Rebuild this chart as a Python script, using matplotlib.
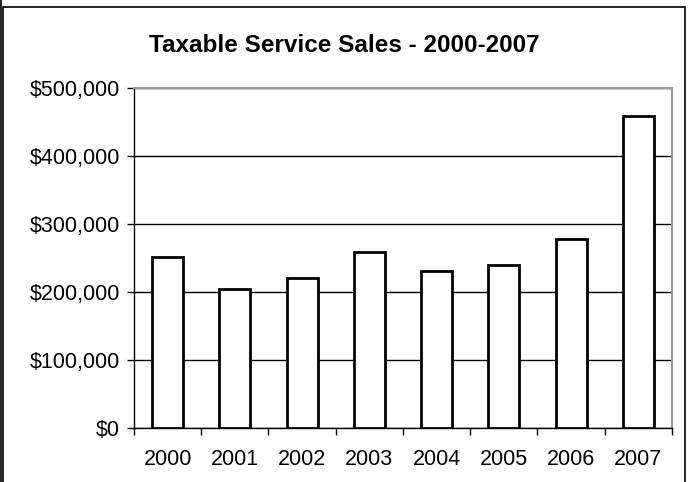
import matplotlib.pyplot as plt
from matplotlib.patches import Rectangle
from matplotlib.lines import Line2D
from matplotlib.ticker import FuncFormatter, MultipleLocator

plt.rcParams['font.family'] = ['Liberation Sans', 'DejaVu Sans']

years = ['2000', '2001', '2002', '2003', '2004', '2005', '2006', '2007']
sales = [250600, 204000, 220600, 258400, 230900, 239700, 278000, 458800]

fig = plt.figure(figsize=(6.96, 4.82), dpi=100)
ax = fig.add_axes([0.1925, 0.1127, 0.773, 0.7047])

x = range(len(years))
ax.bar(x, sales, width=0.46, color='white', edgecolor='black', linewidth=2, zorder=3)

ax.set_xlim(-0.5, len(years) - 0.5)
ax.set_ylim(0, 500000)
ax.yaxis.set_major_locator(MultipleLocator(100000))
ax.yaxis.set_major_formatter(FuncFormatter(lambda v, p: '${:,.0f}'.format(v)))
ax.grid(axis='y', color='black', linewidth=1, zorder=0)

ax.set_xticks([i + 0.5 for i in range(-1, len(years))])
ax.set_xticklabels([])
ax.set_xticks(list(x), minor=True)
ax.set_xticklabels(years, minor=True)
ax.tick_params(axis='x', which='minor', length=0, pad=15, labelsize=15.5)
ax.tick_params(axis='x', which='major', length=5, width=1, direction='out')
ax.tick_params(axis='y', length=5, width=1, direction='out', labelsize=15.5, pad=5)

ax.spines['top'].set_color('#999999')
ax.spines['right'].set_color('#999999')
ax.spines['top'].set_linewidth(1.5)
ax.spines['right'].set_linewidth(1.5)
ax.spines['left'].set_linewidth(1)
ax.spines['bottom'].set_linewidth(1)

fig.text(0.494, 0.905, 'Taxable Service Sales - 2000-2007', ha='center', va='center',
         fontsize=17.5, fontweight='bold')

# outer frame of the chart area
W, H = 696, 482
fig.patches.append(Rectangle((3 / W, -0.05), (685 - 3) / W, (H - 6.5) / H + 0.05,
                             transform=fig.transFigure, fill=False,
                             edgecolor='black', linewidth=1.2))
fig.lines.append(Line2D([0.8 / W, 0.8 / W], [0, 1], transform=fig.transFigure,
                        color='black', linewidth=1.2))

fig.savefig('out.png', dpi=100)
